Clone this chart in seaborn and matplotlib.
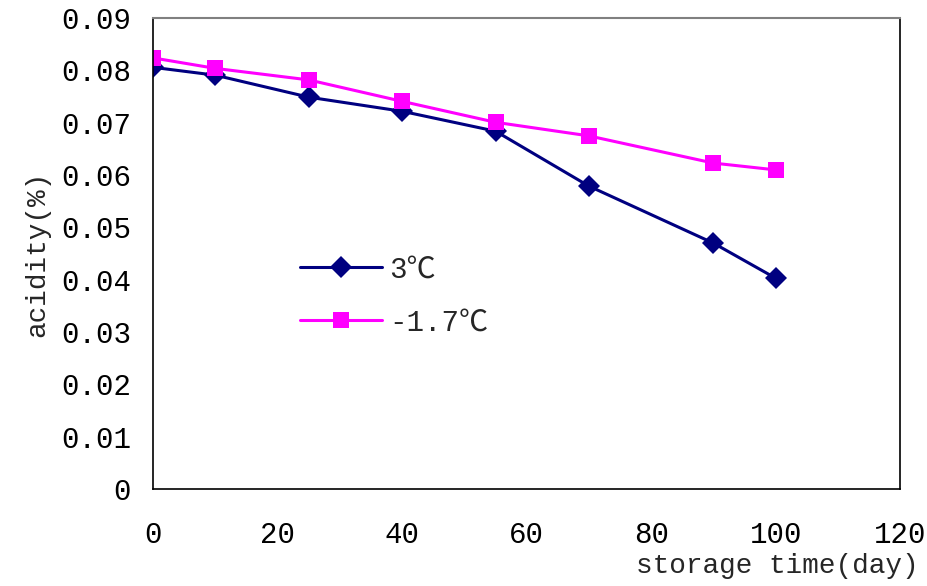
import matplotlib
matplotlib.use("Agg")
import matplotlib.pyplot as plt
import seaborn as sns
import pandas as pd

# storage time (day) and acidity (%)
days = [0, 10, 25, 40, 55, 70, 90, 100]
acid_3c = [0.0806, 0.0791, 0.0749, 0.0722, 0.0684, 0.0579, 0.0470, 0.0403]
acid_m17c = [0.0824, 0.0804, 0.0782, 0.0741, 0.0701, 0.0675, 0.0623, 0.0610]
labels = ["3℃", "-1.7℃"]
x_ticks = [0, 20, 40, 60, 80, 100, 120]
y_ticks = [0, 0.01, 0.02, 0.03, 0.04, 0.05, 0.06, 0.07, 0.08, 0.09]
y_tick_labels = ["0", "0.01", "0.02", "0.03", "0.04", "0.05", "0.06", "0.07", "0.08", "0.09"]

sns.set_style("white")
plt.rcParams["font.family"] = ["Liberation Mono", "Noto Sans CJK SC", "DejaVu Sans"]

df1 = pd.DataFrame({"day": days, "acidity": acid_3c})
df2 = pd.DataFrame({"day": days, "acidity": acid_m17c})

fig = plt.figure(figsize=(9.28, 5.86), dpi=100)
ax = fig.add_axes([0.165, 0.1655, 0.805, 0.8035])

sns.lineplot(data=df1, x="day", y="acidity", ax=ax, color="#000080", marker="D",
             markersize=11, markeredgewidth=0, linewidth=2.2, label=labels[0])
sns.lineplot(data=df2, x="day", y="acidity", ax=ax, color="#FF00FF", marker="s",
             markersize=12, markeredgewidth=0, linewidth=2.2, label=labels[1])

ax.set_xlim(0, 120)
ax.set_ylim(0, 0.09)
ax.set_xticks(x_ticks)
ax.set_yticks(y_ticks)
ax.set_yticklabels(y_tick_labels)
ax.tick_params(axis="both", direction="in", length=7, width=1, labelsize=21, colors="black")
ax.tick_params(axis="x", pad=23)
ax.tick_params(axis="y", pad=16)

for side in ["left", "bottom", "right"]:
    ax.spines[side].set_color("black")
    ax.spines[side].set_linewidth(1.2)
ax.spines["top"].set_color("#808080")
ax.spines["top"].set_linewidth(1.5)

ax.set_xlabel("")
ax.set_ylabel("acidity(%)", fontsize=20, labelpad=8)
fig.text(0.99, 0.012, "storage time(day)", fontsize=20, ha="right", va="bottom")

leg = ax.legend(loc="center left", bbox_to_anchor=(0.197, 0.41), frameon=False,
                fontsize=21, handlelength=2.8, handletextpad=0.25, labelspacing=0.85,
                borderpad=0, borderaxespad=0)

plt.savefig("out.png", dpi=100)
